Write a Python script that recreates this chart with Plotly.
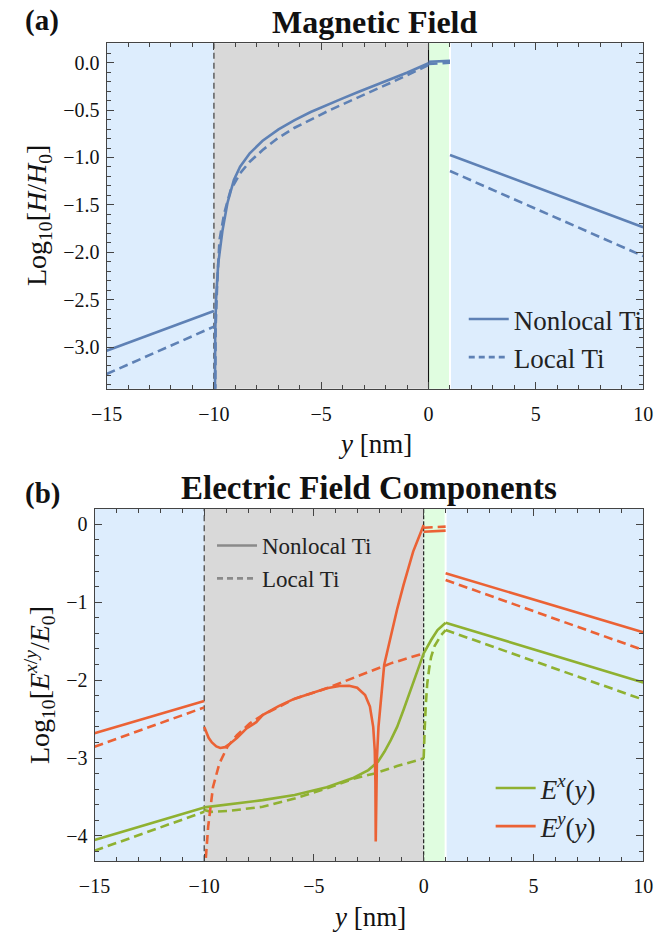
import plotly.graph_objects as go

# ---------------- data: panel (a) magnetic field ----------------
H_left_x = [-15, -10]
H_nl_left = [-3.04, -2.62]
H_loc_left = [-3.285, -2.785]

H_ti_nl_x = [-9.99, -9.97, -9.94, -9.90, -9.80, -9.60, -9.37, -9.07, -8.78, -8.33, -7.73,
             -6.99, -6.24, -5.49, -4.75, -4.00, -3.25, -2.51, -1.76, -1.01, 0.0]
H_ti_nl = [-6.0, -3.4, -2.86, -2.50, -2.12, -1.77, -1.48, -1.238, -1.097, -0.956, -0.823,
           -0.703, -0.605, -0.520, -0.446, -0.376, -0.306, -0.239, -0.172, -0.105, -0.005]

H_ti_loc_x = [-9.99, -9.96, -9.92, -9.85, -9.74, -9.52, -9.22, -8.78, -8.33, -7.73, -6.99,
              -6.24, -5.49, -4.75, -4.00, -3.25, -2.51, -1.76, -1.01, 0.0]
H_ti_loc = [-6.0, -3.3, -2.8, -2.35, -1.87, -1.59, -1.343, -1.167, -1.045, -0.921, -0.791,
            -0.686, -0.597, -0.517, -0.439, -0.365, -0.288, -0.211, -0.133, -0.024]

H_gr_x = [0, 1]
H_gr_nl = [0.01, 0.02]
H_gr_loc = [-0.014, 0.0]

H_right_x = [1, 10]
H_nl_right = [-0.974, -1.737]
H_loc_right = [-1.143, -2.04]

# ---------------- data: panel (b) electric field ----------------
E_left_x = [-15, -10]
Ex_nl_left = [-4.053, -3.633]
Ex_loc_left = [-4.19, -3.69]
Ey_nl_left = [-2.683, -2.268]
Ey_loc_left = [-2.855, -2.35]

Ex_ti_nl_x = [-10.0, -8.8, -7.34, -5.88, -4.42, -3.25, -2.52, -2.08, -1.79, -1.50, -1.21,
              -0.92, -0.70, -0.48, -0.26, 0.0]
Ex_ti_nl = [-3.633, -3.59, -3.54, -3.475, -3.376, -3.26, -3.154, -3.047, -2.92, -2.77, -2.60,
            -2.384, -2.21, -2.04, -1.85, -1.656]

Ex_ti_loc_x = [-10.0, -9.68, -8.8, -7.34, -5.88, -4.42, -3.25, -2.23, -1.21, 0.0]
Ex_ti_loc = [-3.667, -3.69, -3.676, -3.625, -3.52, -3.39, -3.27, -3.197, -3.103, -3.004]

Ey_ti_nl_x = [-10.0, -9.90, -9.80, -9.65, -9.45, -9.27, -9.05, -8.80, -8.50, -8.07, -7.63,
              -7.34, -6.61, -5.88, -5.15, -4.42, -3.84, -3.40, -3.03, -2.67, -2.45, -2.30,
              -2.23, -2.20, -2.185, -2.165, -2.13, -2.06, -1.94, -1.80, -1.50, -1.36, -1.21,
              -0.92, -0.48, 0.0]
Ey_ti_nl = [-2.60, -2.68, -2.74, -2.80, -2.85, -2.87, -2.86, -2.81, -2.74, -2.62, -2.54,
            -2.448, -2.333, -2.238, -2.17, -2.105, -2.076, -2.072, -2.097, -2.19, -2.34, -2.60,
            -2.90, -3.30, -4.07, -3.30, -3.0, -2.60, -2.21, -1.806, -1.44, -1.25, -1.09,
            -0.78, -0.35, -0.01]

Ey_ti_loc_x = [-9.97, -9.94, -9.82, -9.60, -9.31, -8.94, -8.51, -7.92, -7.34, -5.88, -4.42,
               -2.96, -1.50, 0.0]
Ey_ti_loc = [-5.0, -4.33, -3.88, -3.37, -3.07, -2.855, -2.705, -2.555, -2.448, -2.24, -2.105,
             -1.947, -1.785, -1.656]

E_gr_x = [0, 1]
Ey_gr_nl = [-0.095, -0.082]
Ey_gr_loc = [-0.044, -0.03]

Ex_gr_nl_x = [0.0, 0.16, 0.34, 0.63, 1.0]
Ex_gr_nl = [-1.656, -1.571, -1.485, -1.357, -1.263]
Ex_gr_loc_x = [0.0, 0.02, 0.05, 0.10, 0.16, 0.25, 0.34, 0.50, 0.65, 0.80, 1.0]
Ex_gr_loc = [-3.0, -2.9, -2.6, -2.3, -2.05, -1.85, -1.70, -1.56, -1.48, -1.42, -1.357]

E_right_x = [1, 10]
Ex_nl_right = [-1.263, -2.03]
Ex_loc_right = [-1.357, -2.25]
Ey_nl_right = [-0.629, -1.386]
Ey_loc_right = [-0.715, -1.614]

# layer boundaries (nm)
regions = [(-15, -10, "#ddedfd"), (-10, 0, "#d9d9d9"), (0, 1, "#e0fde0"), (1, 10, "#ddedfd")]

BLUE = "#5e81b5"
GREEN = "#8fb131"
RED = "#eb6235"
GRAYL = "#8a8a8a"
FONT = "Liberation Serif"
LW = 2.6
DASH = "9px,5px"

W, H = 664, 934

fig = go.Figure()


def add(x, y, color, dash, xa, ya):
    fig.add_trace(go.Scatter(x=x, y=y, mode="lines", xaxis=xa, yaxis=ya, showlegend=False,
                             line=dict(color=color, width=LW, dash=dash), hoverinfo="skip"))


# panel a
for xs, ys, d in [(H_left_x, H_nl_left, "solid"), (H_left_x, H_loc_left, DASH),
                  (H_ti_nl_x, H_ti_nl, "solid"), (H_ti_loc_x, H_ti_loc, DASH),
                  (H_gr_x, H_gr_nl, "solid"), (H_gr_x, H_gr_loc, DASH),
                  (H_right_x, H_nl_right, "solid"), (H_right_x, H_loc_right, DASH)]:
    add(xs, ys, BLUE, d, "x", "y")

# panel b
for xs, ys, c, d in [(E_left_x, Ex_nl_left, GREEN, "solid"), (E_left_x, Ex_loc_left, GREEN, DASH),
                     (E_left_x, Ey_nl_left, RED, "solid"), (E_left_x, Ey_loc_left, RED, DASH),
                     (Ex_ti_nl_x, Ex_ti_nl, GREEN, "solid"), (Ex_ti_loc_x, Ex_ti_loc, GREEN, DASH),
                     (Ey_ti_nl_x, Ey_ti_nl, RED, "solid"), (Ey_ti_loc_x, Ey_ti_loc, RED, DASH),
                     (E_gr_x, Ey_gr_nl, RED, "solid"), (E_gr_x, Ey_gr_loc, RED, DASH),
                     (Ex_gr_nl_x, Ex_gr_nl, GREEN, "solid"), (Ex_gr_loc_x, Ex_gr_loc, GREEN, DASH),
                     (E_right_x, Ex_nl_right, GREEN, "solid"), (E_right_x, Ex_loc_right, GREEN, DASH),
                     (E_right_x, Ey_nl_right, RED, "solid"), (E_right_x, Ey_loc_right, RED, DASH)]:
    add(xs, ys, c, d, "x2", "y2")

# legend entries
def leg(name, color, dash, legend, xa, ya):
    fig.add_trace(go.Scatter(x=[None], y=[None], mode="lines", name=name, legend=legend,
                             xaxis=xa, yaxis=ya, line=dict(color=color, width=LW, dash=dash)))

leg("Nonlocal Ti", BLUE, "solid", "legend", "x", "y")
leg("Local Ti", BLUE, "6px,4px", "legend", "x", "y")
leg("Nonlocal Ti", GRAYL, "solid", "legend2", "x2", "y2")
leg("Local Ti", GRAYL, "6px,4px", "legend2", "x2", "y2")
leg("<i>E</i><sup><i>x</i></sup>(<i>y</i>)", GREEN, "solid", "legend3", "x2", "y2")
leg("<i>E</i><sup><i>y</i></sup>(<i>y</i>)", RED, "solid", "legend3", "x2", "y2")

shapes = []
for xr, yr, zero_dash in [("x", "y", "solid"), ("x2", "y2", "4px,2px")]:
    for a, b, c in regions:
        shapes.append(dict(type="rect", xref=xr, yref=yr + " domain", x0=a, x1=b, y0=0, y1=1,
                           fillcolor=c, line=dict(width=0), layer="below"))
    shapes.append(dict(type="line", xref=xr, yref=yr + " domain", x0=-10, x1=-10, y0=0, y1=1,
                       line=dict(color="#555555", width=1.4, dash="6px,4px"), layer="below"))
    shapes.append(dict(type="line", xref=xr, yref=yr + " domain", x0=0, x1=0, y0=0, y1=1,
                       line=dict(color="#111111", width=1.1, dash=zero_dash), layer="below"))
    shapes.append(dict(type="line", xref=xr, yref=yr + " domain", x0=1, x1=1, y0=0, y1=1,
                       line=dict(color="#ffffff", width=2), layer="below"))


def px(x):
    return x / W


def py(y):
    return 1 - y / H


axis_common = dict(showgrid=False, zeroline=False, showline=True, mirror="ticks",
                   linecolor="#444444", linewidth=1, ticks="inside", ticklen=7, tickwidth=1,
                   tickcolor="#444444", tickfont=dict(family=FONT, size=20, color="#111111"))

xticks = [-15, -10, -5, 0, 5, 10]

fig.update_layout(
    width=W, height=H, margin=dict(l=0, r=0, t=0, b=0),
    paper_bgcolor="white", plot_bgcolor="white",
    font=dict(family=FONT, color="#111111"),
    shapes=shapes,
    xaxis=dict(domain=[px(94.3), px(652.7)], range=[-15, 10], tickvals=xticks,
               minor=dict(dtick=1, ticks="inside", ticklen=4, tickcolor="#444444"),
               anchor="y", ticklabelstandoff=7, **axis_common),
    yaxis=dict(domain=[py(388.7), py(43.3)], range=[-3.44, 0.205], dtick=0.5, tick0=0,
               tickformat=".1f",
               minor=dict(dtick=0.1, ticks="inside", ticklen=4, tickcolor="#444444"),
               anchor="x", ticklabelstandoff=2, **axis_common),
    xaxis2=dict(domain=[px(81.7), px(652.7)], range=[-15, 10], tickvals=xticks,
                minor=dict(dtick=1, ticks="inside", ticklen=4, tickcolor="#444444"),
                anchor="y2", ticklabelstandoff=7, **axis_common),
    yaxis2=dict(domain=[py(861.3), py(509)], range=[-4.325, 0.196], dtick=1, tick0=0,
                minor=dict(dtick=0.2, ticks="inside", ticklen=4, tickcolor="#444444"),
                anchor="x2", ticklabelstandoff=2, **axis_common),
    legend=dict(x=px(466), y=py(295), xanchor="left", yanchor="top", bgcolor="rgba(0,0,0,0)",
                font=dict(family=FONT, size=27, color="#222222"), itemwidth=40),
    legend2=dict(x=px(204), y=py(524), xanchor="left", yanchor="top", bgcolor="rgba(0,0,0,0)",
                 font=dict(family=FONT, size=23, color="#222222"), itemwidth=40),
    legend3=dict(x=px(494), y=py(764), xanchor="left", yanchor="top", bgcolor="rgba(0,0,0,0)",
                 font=dict(family=FONT, size=27, color="#222222"), itemwidth=40),
)

ann = [
    dict(text="<b>Magnetic Field</b>", x=px(373.5), y=py(22), size=32, angle=0),
    dict(text="<b>Electric Field Components</b>", x=px(367.5), y=py(488), size=33, angle=0),
    dict(text="<b>(a)</b>", x=px(27), y=py(20), size=29, angle=0),
    dict(text="<b>(b)</b>", x=px(28), y=py(493), size=29, angle=0),
    dict(text="<i>y</i> [nm]", x=px(373.5), y=py(444), size=27, angle=0),
    dict(text="<i>y</i> [nm]", x=px(367.5), y=py(917), size=27, angle=0),
    dict(text="Log<sub>10</sub>[<i>H</i>/<i>H</i><sub>0</sub>]", x=px(24), y=py(216), size=28, angle=-90),
    dict(text="Log<sub>10</sub>[<i>E</i><sup><i>x</i>/<i>y</i></sup>/<i>E</i><sub>0</sub>]",
         x=px(24), y=py(685), size=28, angle=-90),
]
for a in ann:
    fig.add_annotation(text=a["text"], x=a["x"], y=a["y"], xref="paper", yref="paper",
                       xanchor="center", yanchor="middle", showarrow=False, textangle=a["angle"],
                       font=dict(family=FONT, size=a["size"], color="#111111"))

fig.write_html("out.html", config={"displayModeBar": False},
               post_script="document.body.style.margin='0';document.body.style.overflow='hidden';")
